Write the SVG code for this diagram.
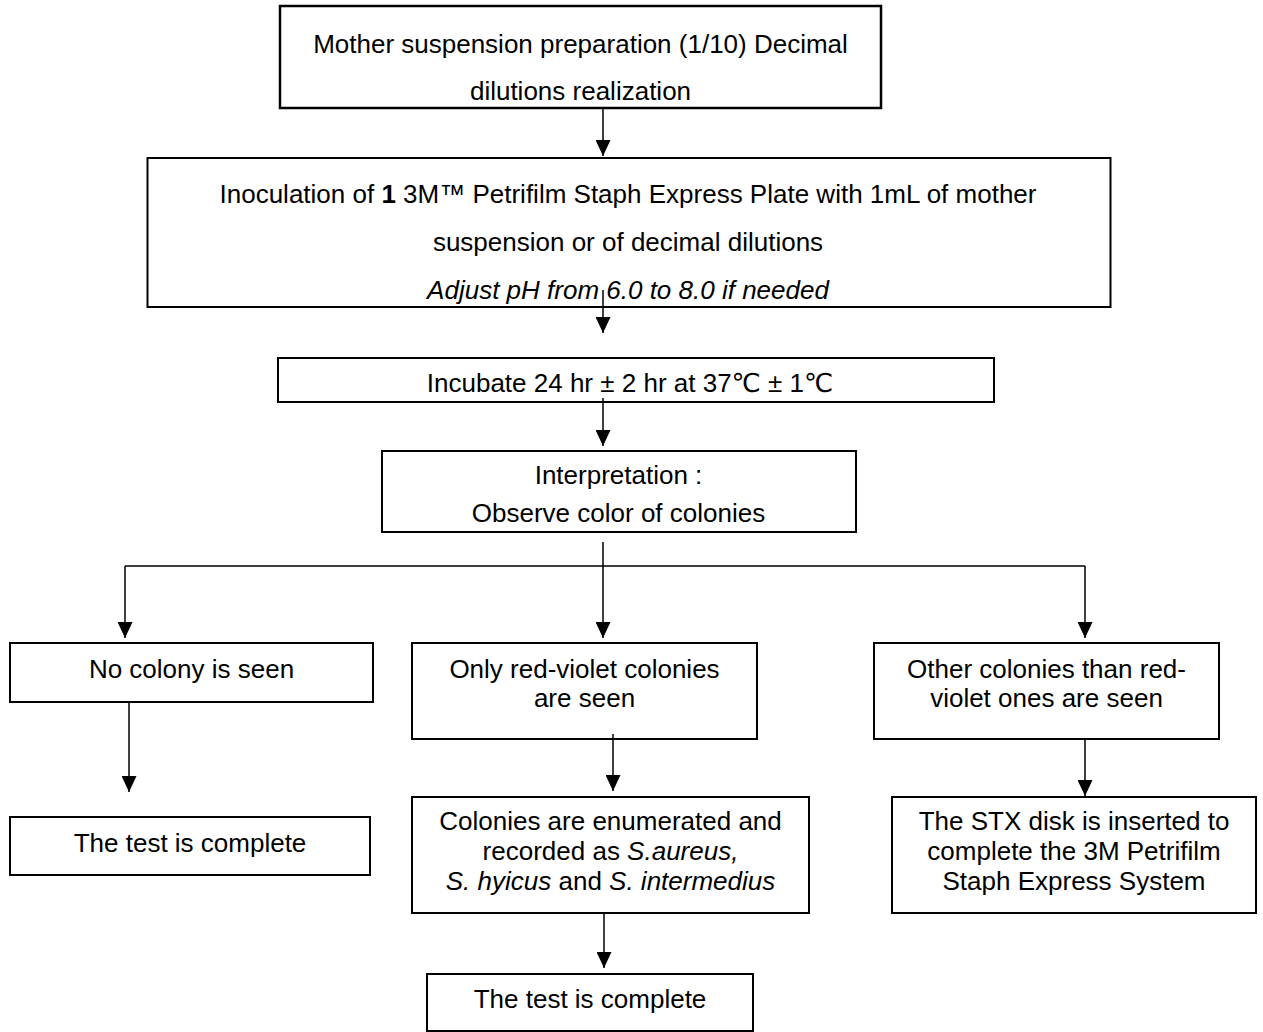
<svg xmlns="http://www.w3.org/2000/svg" width="1263" height="1032" viewBox="0 0 1263 1032">
<style>
  .box { fill: #ffffff; stroke: #000000; stroke-width: 2; }
  .thick { stroke-width: 2.5; }
  .t { font-family: "Liberation Sans", Arial, "DejaVu Sans", sans-serif; font-size: 26px; fill: #000000; text-anchor: middle; }
  .i { font-style: italic; }
  .b { font-weight: bold; }
  .conn { stroke: #000000; stroke-width: 1.5; fill: none; }
  .arr { marker-end: url(#ah); }
</style>
<defs>
  <marker id="ah" markerUnits="userSpaceOnUse" markerWidth="16" markerHeight="15" refX="16" refY="7.5" orient="auto">
    <path d="M0,0 L16,7.5 L0,15 Z" fill="#000000"/>
  </marker>
</defs>
<rect width="1263" height="1032" fill="#ffffff"/>

<g id="n1">
  <rect class="box thick" x="280" y="6" width="601" height="102"/>
  <text class="t" x="580.5" y="53">Mother suspension preparation (1/10) Decimal</text>
  <text class="t" x="580.5" y="100">dilutions realization</text>
</g>

<g id="n2">
  <rect class="box" x="147.5" y="158" width="963" height="149"/>
  <text class="t" x="628" y="203">Inoculation of <tspan class="b">1</tspan> 3M™ Petrifilm Staph Express Plate with 1mL of mother</text>
  <text class="t" x="628" y="251">suspension or of decimal dilutions</text>
  <text class="t i" x="628" y="299">Adjust pH from 6.0 to 8.0 if needed</text>
</g>

<g id="n3">
  <rect class="box" x="278" y="358" width="716" height="44"/>
  <text class="t" x="630" y="392">Incubate 24 hr ± 2 hr at 37℃ ± 1℃</text>
</g>

<g id="n4">
  <rect class="box" x="382" y="451" width="474" height="81"/>
  <text class="t" x="618.5" y="484">Interpretation :</text>
  <text class="t" x="618.5" y="522">Observe color of colonies</text>
</g>

<g id="n5a">
  <rect class="box" x="10" y="643" width="363" height="59"/>
  <text class="t" x="191.5" y="678">No colony is seen</text>
</g>

<g id="n5b">
  <rect class="box" x="412" y="643" width="345" height="96"/>
  <text class="t" x="584.5" y="678">Only red-violet colonies</text>
  <text class="t" x="584.5" y="707">are seen</text>
</g>

<g id="n5c">
  <rect class="box" x="874" y="643" width="345" height="96"/>
  <text class="t" x="1046.5" y="678">Other colonies than red-</text>
  <text class="t" x="1046.5" y="707">violet ones are seen</text>
</g>

<g id="n6a">
  <rect class="box" x="10" y="817" width="360" height="58"/>
  <text class="t" x="190" y="852">The test is complete</text>
</g>

<g id="n6b">
  <rect class="box" x="412" y="797" width="397" height="116"/>
  <text class="t" x="610.5" y="830">Colonies are enumerated and</text>
  <text class="t" x="610.5" y="860">recorded as <tspan class="i">S.aureus,</tspan></text>
  <text class="t" x="610.5" y="890"><tspan class="i">S. hyicus</tspan> and <tspan class="i">S. intermedius</tspan></text>
</g>

<g id="n6c">
  <rect class="box" x="892" y="797" width="364" height="116"/>
  <text class="t" x="1074" y="830">The STX disk is inserted to</text>
  <text class="t" x="1074" y="860">complete the 3M Petrifilm</text>
  <text class="t" x="1074" y="890">Staph Express System</text>
</g>

<g id="n7">
  <rect class="box" x="427" y="974" width="326" height="57"/>
  <text class="t" x="590" y="1008">The test is complete</text>
</g>

<g id="connectors">
  <line class="conn arr" x1="603" y1="108" x2="603" y2="156"/>
  <line class="conn arr" x1="603" y1="290" x2="603" y2="333"/>
  <line class="conn arr" x1="603" y1="398" x2="603" y2="446"/>
  <line class="conn arr" x1="603" y1="542" x2="603" y2="638"/>
  <line class="conn" x1="125" y1="566" x2="1085" y2="566"/>
  <line class="conn arr" x1="125" y1="566" x2="125" y2="638"/>
  <line class="conn arr" x1="1085" y1="566" x2="1085" y2="638"/>
  <line class="conn arr" x1="129" y1="702" x2="129" y2="792"/>
  <line class="conn arr" x1="613" y1="734" x2="613" y2="791"/>
  <line class="conn arr" x1="1085" y1="739" x2="1085" y2="796"/>
  <line class="conn arr" x1="604" y1="913" x2="604" y2="968"/>
</g>
</svg>
